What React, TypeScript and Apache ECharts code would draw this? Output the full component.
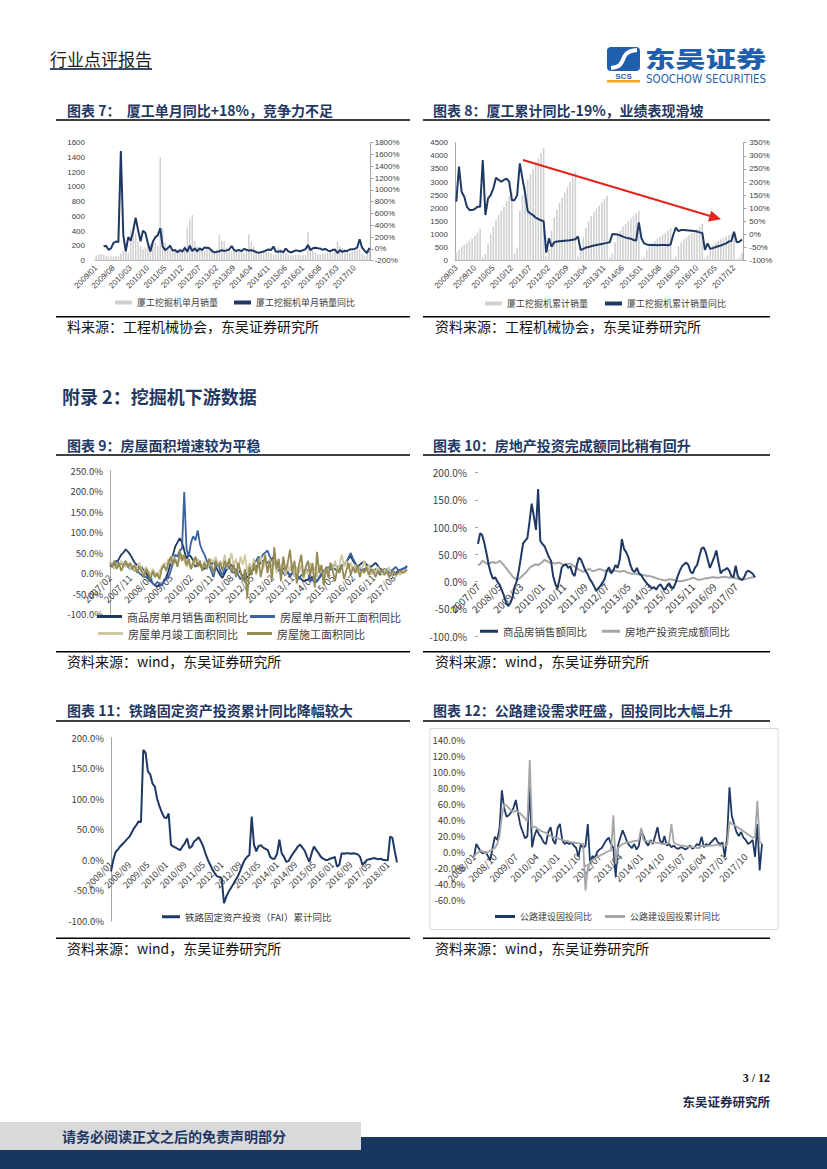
import React, { useEffect, useRef } from 'react';
import * as echarts from 'echarts';

function months(y0: number, m0: number, n: number): string[] {
  const out: string[] = [];
  let y = y0, m = m0;
  for (let i = 0; i < n; i++) {
    out.push(`${y}/${m < 10 ? '0' + m : m}`);
    m++;
    if (m > 12) { m = 1; y++; }
  }
  return out;
}

// ---------- 图表7 ----------
const cat7 = months(2009, 1, 112);
const xgMonthlySales = [
  70, 80, 95, 85, 70, 60, 60, 55, 60, 70, 100, 130,
  130, 110, 420, 450, 380, 260, 200, 160, 180, 220, 240, 270,
  250, 200, 1400, 440, 250, 180, 130, 110, 130, 150, 140, 130,
  200, 450, 560, 620, 270, 200, 160, 140, 140, 170, 160, 150,
  120, 150, 350, 270, 260, 180, 150, 130, 140, 160, 150, 140,
  100, 140, 360, 260, 200, 150, 120, 100, 110, 120, 110, 100,
  80, 90, 180, 160, 120, 100, 80, 70, 75, 80, 80, 75,
  70, 80, 390, 200, 140, 110, 90, 80, 90, 100, 110, 110,
  110, 150, 260, 200, 170, 140, 120, 110, 120, 140, 150, 160,
  90, 70, 150, 160,
];
const xgMonthlyYoy = [
  null, null, null,
  40, 55, -15, 10, 100, 125, 115, 1660, 230, -40,
  200, 140, 300, 530, 320, 130, 310, 270, 90, -45,
  120, 200, 230, 350, 40, -20, 10, 55, -30, -20,
  -55, -20, -45, 20, -50, 55, -35, 10, -40, 10,
  -20, 25, 20, 10, -35, -60, -50, -40, -20, -35,
  -25, -10, 50, -20, -35, -15, -40, 0, -15, -30,
  -20, -35, -55, -65, -55, -45, -25, -10, -20, 40,
  -50, -45, -40, -55, 5, -40, -60, -45, -25, -30,
  -40, -20, -5, 65, -20, 10, 20, 10, 5, -15,
  0, -25, -40, -20, -10, -70, -20, -50, -30, -35,
  -10, -5, 0, 20, 165, 20, -30, -70, 18,
];

// ---------- 图表8 ----------
const cat8 = months(2009, 3, 109);
const xgCumSales = [
  300, 420, 520, 610, 690, 760, 850, 950, 1080, 1220,
  130, 250, 650, 1000, 1300, 1550, 1750, 1900, 2050, 2250, 2450, 2600,
  280, 500, 1900, 2500, 2850, 3100, 3300, 3500, 3700, 3900, 4100, 4300,
  170, 450, 1150, 1650, 1950, 2200, 2400, 2600, 2800, 3000, 3200, 3400,
  150, 350, 900, 1250, 1500, 1700, 1850, 1980, 2100, 2230, 2350, 2480,
  120, 260, 700, 950, 1150, 1300, 1400, 1500, 1600, 1700, 1800, 1900,
  60, 130, 400, 560, 680, 760, 840, 910, 990, 1060, 1150, 1250,
  70, 150, 550, 700, 820, 900, 970, 1040, 1110, 1200, 1300, 1400,
  80, 200, 450, 600, 700, 760, 820, 880, 930, 980, 1030, 1080,
  60, 130, 300,
];
const xgCumYoy = [
  125, 259, 163, 144, 106, 93, 93, 97, 106, 106,
  284, 74, 138, 150, 176, 216, 208, 201, 208, 213,
  201, 131, 131, 150, 271, 213, 157, 89, 80, 74,
  64, 59, 54, 51, -69, -15, -47, -30, -27, -26,
  -25, -24, -23, -22, -20, -18, -8, -59, -55, -50,
  -48, -45, -42, -40, -38, -36, -34, -32, -30, 2,
  1, 0, -4, -8, -12, -14, -16, -21, -23, 46,
  -15, -34, -38, -40, -40, -40, -41, -40, -40, -40,
  -41, -38, -2, 26, 13, 17, 17, 16, 15, 14, 13, 11,
  8, 6, -59, -34, -55, -52, -48, -45, -42, -38, -34, -27, -25, 10, -30, -28, -19,
];

// ---------- 图表9 ----------
const cat9 = months(2007, 2, 133);
const salesAreaYoy = [
  20, 15, 22, 25, 35, 45, 50, 58, 52, 45,
  35, 25, 20, 12, 15, 5, 0, -8, -15, -25,
  -30, -33, -28, -30, -20, -10, 5, 25, 45, 65,
  75, 85, 75, 55, 35, 45, 40, 30, 15, 25,
  20, 12, 10, 18, 25, 20, 30, 15, 5, -5,
  -12, 0, 10, 15, 20, 12, 5, 8, 0, -8,
  -15, -10, -5, 5, 10, 15, 20, 25, 30, 28,
  25, 30, 35, 40, 20, 15, 10, 12, 5, 0,
  -5, 0, 0, -5, -10, -15, -20, -18, -15, -12,
  -10, -15, -20, -12, -5, 5, 10, 12, 15, 18,
  20, 15, 10, 15, 20, 28, 35, 42, 30, 22,
  15, 20, 25, 28, 20, 18, 15, 20, 25, 18,
  10, 8, 5, 8, 10, 3, -5, 0, 5, 8,
  10, 12, 15,
];
const newStartYoy = [
  25, 20, 28, 30, 22, 25, 18, 20, 15, 10,
  12, 5, 8, 0, -5, -10, -8, -15, -20, -25,
  -30, -22, -25, -30, -20, -15, -10, 5, 25, 45,
  40, 55, 60, 198, 60, 40, 75, 90, 80, 104,
  70, 55, 45, 30, 20, 5, -10, 15, 25, 5,
  -5, 10, 25, 15, 5, 0, 10, -5, -15, -8,
  -15, 5, 10, 15, 25, 30, 40, 35, 45, 50,
  55, 40, 30, 25, 15, 5, 10, 0, -5, 5,
  -10, 0, -5, -10, -15, -5, 0, 10, 5, -20,
  -15, -25, -20, -10, 0, 5, 10, 15, 8, 12,
  10, 5, 15, 20, 18, 25, 38, 49, 35, 25,
  15, 10, 5, 10, 8, 12, 5, 0, 10, 5,
  -5, 5, 10, 8, 0, 5, 10, 15, 8, 5,
  10, 12, 18,
];
const completedYoy = [
  30, 20, 10, 25, 15, 30, 20, 15, 25, 10,
  20, 5, 15, 25, 10, 0, 15, 5, -5, 10,
  0, -10, 5, 15, 25, 20, 35, 25, 40, 30,
  20, 35, 45, 30, 15, 25, 10, 30, 20, 35,
  25, 15, 30, 10, 20, 35, 25, 40, 15, 30,
  20, 45, 10, 30, 49, 15, 35, 5, 40, 20,
  45, 0, 25, 10, 35, -5, 20, 40, 10, 30,
  5, 35, 15, 40, 0, 25, 10, 35, -5, 20,
  5, 25, -10, 15, 0, 20, -15, 10, -5, 25,
  0, 15, -10, 20, 5, -5, 15, 0, 25, 10,
  30, 5, 20, 45, 15, 30, 10, 25, 5, 20,
  0, 15, 10, 30, 5, 20, -5, 10, 0, 15,
  5, -5, 10, 0, 15, -5, 5, -10, 0, -5,
  5, 0, 10,
];
const underConstYoy = [
  25, 15, 30, 10, 25, 5, 20, 30, 15, 25,
  10, 20, 0, 15, 5, -10, 10, 0, -15, 5,
  -10, 0, -15, 10, 20, 5, 25, 40, 20, 35,
  15, 55, 30, 45, 20, 35, 10, 25, 40, 15,
  30, 5, 25, 10, 35, 20, 0, 30, 15, 25,
  5, 30, 15, 35, 0, 20, -10, 25, 5, -20,
  10, -60, 15, -5, 25, 0, 35, -10, 20, 45,
  0, 30, -15, 63, 10, 35, -20, 40, 5, 25,
  57, 0, 30, -25, 20, 45, -10, 15, 30, -5,
  25, -35, 52, 0, 20, -30, 15, -10, 25, 5,
  -20, 10, 0, 20, -15, 5, 25, -5, 15, 0,
  20, -10, 10, 0, 15, -5, 10, 5, -10, 5,
  0, 10, -5, 5, -10, 0, 5, -5, 0, 5,
  0, 5, 8,
];

// ---------- 图表10 ----------
const cat10 = months(2007, 7, 130);
const salesValueYoy = [
  69, 89, 85, 70, 51, 30, 15, 5, 8, 0,
  -5, -15, -25, -38, -45, -40, -30, -10, 0, 20,
  45, 70, 75, 80, 110, 143, 120, 95, 170, 75,
  69, 65, 55, 45, 38, 10, -4, -13, 5, 26,
  30, 32, 25, 28, 15, 10, 30, 44, 40, 30,
  20, 14, 5, -1, -8, -17, -12, -8, -2, 5,
  20, 26, 15, 20, 30, 25, 40, 78, 60, 54,
  45, 30, 20, 18, 25, 15, 12, 5, 0, -5,
  -8, -13, -10, -15, -8, -5, -12, -15, -8, -3,
  -10, -12, -3, 10, 20, 28, 32, 35, 30, 18,
  15, 25, 30, 45, 60, 63, 55, 40, 25, 35,
  45, 57, 35, 15, 20, 22, 25, 20, 10, 8,
  29, 10, 5, 3, 8, 18, 20, 17, 14, 8,
];
const reInvestYoy = [
  30, 32, 38, 36, 33, 32, 35, 36, 34, 35,
  38, 35, 30, 25, 20, 15, 10, 6, 4, 5,
  8, 12, 15, 20, 25, 28, 30, 32, 30, 33,
  36, 40, 38, 35, 36, 34, 33, 34, 35, 32,
  30, 31, 32, 33, 30, 28, 25, 22, 20, 18,
  20, 22, 23, 20, 19, 21, 22, 23, 21, 20,
  20, 19, 20, 21, 20, 19, 18, 19, 20, 18,
  16, 15, 14, 15, 14, 13, 12, 12, 11, 10,
  10, 9, 8, 6, 5, 4, 3, 2, 3, 4,
  4, 3, 2, 1, 0, 1, 2, 3, 4, 5,
  7, 6, 4, 3, 4, 5, 6, 6, 7, 8,
  8, 7, 7, 8, 8, 9, 8, 7, 8, 7,
  6, 5, 4, 3, 4, 5, 6, 7, 8, 9,
];

// ---------- 图表11 ----------
const cat11 = months(2008, 1, 125);
const railFaiYoy = [
  -19, 0, 13, 17, 22, 26, 30, 34, 38, 45,
  52, 57, 63, 62, 180, 175, 145, 140, 125, 120,
  100, 88, 78, 70, 68, 76, 25, 22, 20, 18,
  16, 22, 27, 35, 19, 22, 30, 33, 37, 30,
  22, 10, 0, -8, -16, -22, -27, -28, -30, -71,
  -60, -52, -46, -40, -33, -27, -18, -8, 0, 5,
  8, 71, 25, 14, 23, 24, 20, 18, 16, 5,
  2, 2, 10, 33, 11, 5, -3, -2, 5, 11,
  16, 22, 25, 20, 15, 5, -3, 11, 22, 16,
  11, 5, 2, 0, 0, 2, 3, 5, -11, -8,
  11, 10, 11, 11, 10, 11, 10, 9, 5, -8,
  -4, 0, 1, 2, 3, 2, 1, 2, 0, 0,
  -1, 38, 36, 15, -4,
];

// ---------- 图表12 ----------
const cat12 = months(2008, 1, 125);
const roadFaiYoy = [
  -6, 10, 5, 0, -2, 0, -5, -10, 5, 19,
  15, 30, 77, 55, 44, 46, 50, 55, 65, 48,
  33, 25, 17, 20, 81, 6, 20, 28, 22, 18,
  12, 10, 25, 31, 15, 10, 30, 35, 15, 10,
  12, 10, 12, 8, 5, -6, 10, 5, 8, 35,
  -15, -5, -8, 0, 3, 5, 10, 15, 18, 10,
  5, -31, 8, 18, 27, 20, 12, 8, 5, 10,
  3, 8, 27, 20, 12, 8, 15, 10, 20, 31,
  15, 10, 20, 8, 10, 6, 8, 5, 4, 6,
  5, 3, 5, 8, 4, 6, 10, 8, 19, 6,
  10, 8, 12, 15, 18, 12, 10, 12, -6, 20,
  81, 45, 35, 25, 20, 25, 18, 15, 10, 12,
  15, -6, 35, -23, 10,
];
const roadFaiCumYoy = [
  -6, -2, 0, 2, 0, -2, 0, 2, 3, 5,
  10, 20, 45, 60, 58, 55, 52, 50, 52, 50,
  48, 45, 42, 38, 115, 30, 32, 30, 28, 26,
  25, 24, 22, 20, 19, 18, 17, 16, 15, 14,
  14, 13, 12, 12, 11, 11, 10, 10, -48, -20,
  -12, -10, -8, -6, -5, -3, -2, 0, 1, 2,
  46, -15, 5, 8, 10, 11, 12, 12, 13, 14,
  14, 15, 30, 15, 14, 13, 13, 12, 12, 11,
  11, 10, 10, 10, 12, 35, 12, 10, 9, 8,
  8, 7, 7, 6, 6, 6, 5, 5, 8, 8,
  7, 8, 8, 8, 9, 9, 8, 8, 8, 9,
  38, 35, 34, 32, 30, 28, 26, 24, 22, 20,
  18, 18, 64, 12, 11,
];

const NAVY = '#1F3864';
const CJK = '"Noto Sans CJK SC", "Noto Sans", sans-serif';
const NUM = '"Liberation Sans", Arial, sans-serif';
const LBL = '#404040';

const pct1 = (v: number) => v.toFixed(1) + '%';
const pct0 = (v: number) => v + '%';
const plain = (v: number) => String(v);

const G7 = { left: 95, top: 142.7, width: 275.7, height: 118 };
const G8 = { left: 455, top: 142.7, width: 288.3, height: 118 };
const G9 = { left: 110, top: 470.7, width: 297, height: 143.3 };
const G10 = { left: 478, top: 472.7, width: 277, height: 163.3 };
const G11 = { left: 111, top: 737.7, width: 286, height: 183.3 };
const G12 = { left: 474, top: 740, width: 288, height: 160 };

// offset that moves a bottom category axis up to the zero line of its value axis
const zeroOffset = (g: any, min: number, max: number) => -g.height * (0 - min) / (max - min);

function catAxis(gridIndex: number, data: string[], interval: number, fontSize: number, boundaryGap: boolean, lineShow: boolean, fontFamily: string, margin: number, offset = 0) {
  return {
    type: 'category', gridIndex, data, boundaryGap, offset,
    axisLine: { show: lineShow, onZero: false, lineStyle: { color: '#A6A6A6', width: 1 } },
    axisTick: { show: false },
    axisLabel: { interval, rotate: 45, fontSize, color: LBL, fontFamily, margin },
    splitLine: { show: false },
  };
}

function valAxis(gridIndex: number, min: number, max: number, interval: number, fmt: any, fontSize: number, fontFamily: string, opts: any = {}) {
  return {
    type: 'value', gridIndex, min, max, interval,
    position: opts.position || 'left',
    axisLine: { show: !!opts.line, lineStyle: { color: '#A6A6A6', width: 1 } },
    axisTick: { show: !!opts.tick, length: 3, lineStyle: { color: '#A6A6A6' } },
    axisLabel: { formatter: fmt, fontSize, color: LBL, fontFamily, margin: opts.margin ?? 7 },
    splitLine: { show: false },
  };
}

function lineSeries(name: string, x: number, y: number, data: any[], color: string, width: number, z = 3) {
  return {
    type: 'line', name, xAxisIndex: x, yAxisIndex: y, data, color,
    showSymbol: false, symbol: 'none', z,
    lineStyle: { color, width }, itemStyle: { color },
  };
}

function legend(names: string[], left: number, top: number, itemWidth: number, itemHeight: number, itemGap: number, fontSize: number) {
  return {
    data: names.map((n) => ({ name: n, icon: 'rect' })),
    left, top, itemWidth, itemHeight, itemGap, padding: 0, selectedMode: false,
    textStyle: { fontSize, color: LBL, fontFamily: CJK, padding: [0, 0, 0, 0] },
  };
}

function txt(x: number, y: number, text: string, fontSize: number, fill: string, fontWeight: any = 'normal', align = 'left', fontFamily = CJK) {
  return { type: 'text', x, y, z: 20, style: { text, fontSize, fill, fontWeight, fontFamily, align, verticalAlign: 'middle' } };
}
function hline(x1: number, x2: number, y: number, stroke = '#000', lineWidth = 1.5) {
  return { type: 'line', z: 20, shape: { x1, y1: y, x2, y2: y }, style: { stroke, lineWidth } };
}

export default function App() {
  const ref = useRef<HTMLDivElement>(null);
  useEffect(() => {
    document.body.style.margin = '0';
    const chart = echarts.init(ref.current!, null, { renderer: 'svg' });
    const titleSize = 14;
    const srcSize = 14;
    const graphicEls: any[] = [
      // header
      txt(50, 58, '行业点评报告', 17, '#222', 'normal'),
      hline(50, 152, 69, '#3B4A6B', 2),
      // logo
      { type: 'rect', z: 20, shape: { x: 607, y: 47, width: 33, height: 24, r: 4 }, style: { fill: '#1F5FAE' } },
      { type: 'bezierCurve', z: 21, shape: { x1: 611, y1: 68, cpx1: 630, cpy1: 66, cpx2: 616, cpy2: 52, x2: 637, y2: 50 }, style: { stroke: '#fff', lineWidth: 4, fill: null } },
      txt(623.5, 76, 'SCS', 8, '#1F5FAE', 'bold', 'center', NUM),
      { type: 'rect', z: 20, shape: { x: 607, y: 80, width: 33, height: 2.5 }, style: { fill: '#F5A623' } },
      { ...txt(645, 57, '东吴证券', 22, '#1F5FAE', 900), scaleX: 1.38 },
      txt(646, 78.5, 'SOOCHOW SECURITIES', 11.5, '#1F5FAE', 'normal', 'left', '"Liberation Sans Narrow", "DejaVu Sans Condensed", sans-serif'),
      // titles
      txt(67, 110, '图表 7：  厦工单月同比+18%，竞争力不足', titleSize, NAVY, 'bold'),
      txt(433, 110, '图表 8：厦工累计同比-19%，业绩表现滑坡', titleSize, NAVY, 'bold'),
      txt(67, 445, '图表 9：房屋面积增速较为平稳', titleSize, NAVY, 'bold'),
      txt(433, 445, '图表 10：房地产投资完成额同比稍有回升', titleSize, NAVY, 'bold'),
      txt(67, 710, '图表 11：铁路固定资产投资累计同比降幅较大', titleSize, NAVY, 'bold'),
      txt(433, 710, '图表 12：公路建设需求旺盛，固投同比大幅上升', titleSize, NAVY, 'bold'),
      txt(62, 396, '附录 2：挖掘机下游数据', 18, NAVY, 'bold'),
      // rules
      hline(56, 410, 120), hline(423, 770, 120),
      hline(56, 410, 316.7), hline(423, 770, 316.7),
      hline(56, 410, 455), hline(423, 770, 455),
      hline(56, 410, 651.7), hline(423, 770, 651.7),
      hline(56, 410, 721), hline(423, 770, 721),
      hline(56, 410, 938.3), hline(423, 770, 938.3),
      // sources
      txt(67, 326, '料来源：工程机械协会，东吴证券研究所', srcSize, '#111'),
      txt(435, 326, '资料来源：工程机械协会，东吴证券研究所', srcSize, '#111'),
      txt(67, 661, '资料来源：wind，东吴证券研究所', srcSize, '#111'),
      txt(435, 661, '资料来源：wind，东吴证券研究所', srcSize, '#111'),
      txt(67, 948, '资料来源：wind，东吴证券研究所', srcSize, '#111'),
      txt(435, 948, '资料来源：wind，东吴证券研究所', srcSize, '#111'),
      // red arrow on chart 8
      { type: 'line', z: 20, shape: { x1: 523, y1: 160, x2: 711, y2: 216.3 }, style: { stroke: '#E5231B', lineWidth: 2 } },
      { type: 'polygon', z: 20, shape: { points: [[721, 219.3], [708, 221.5], [711.2, 210.8]] }, style: { fill: '#E5231B' } },
      // chart 12 frame
      { type: 'rect', z: 1, shape: { x: 430, y: 728.5, width: 348, height: 201 }, style: { fill: 'transparent', stroke: '#D9D9D9', lineWidth: 1 } },
      // footer
      txt(770, 1078, '3 / 12', 12, '#111', 'bold', 'right', '"Liberation Serif", serif'),
      txt(770, 1101, '东吴证券研究所', 12.5, '#1a2a4a', 'bold', 'right'),
      { type: 'rect', z: 18, shape: { x: 0, y: 1137, width: 827, height: 32 }, style: { fill: '#17375E' } },
      { type: 'rect', z: 19, shape: { x: 0, y: 1122, width: 361, height: 28 }, style: { fill: '#D9D9D9' } },
      txt(62, 1136, '请务必阅读正文之后的免责声明部分', 14, NAVY, 'bold'),
    ];

    const option: any = {
      animation: false,
      backgroundColor: '#fff',
      grid: [G7, G8, G9, G10, G11, G12],
      xAxis: [
        catAxis(0, cat7, 6, 8, true, true, NUM, 6),
        catAxis(1, cat8, 6, 8, true, true, NUM, 6),
        catAxis(2, cat9, 8, 9.5, false, false, CJK, 3, zeroOffset(G9, -100, 250)),
        catAxis(3, cat10, 9, 10, false, false, CJK, 3, zeroOffset(G10, -100, 200)),
        catAxis(4, cat11, 7, 9, false, false, CJK, 3, zeroOffset(G11, -100, 200)),
        catAxis(5, cat12, 8, 9.5, false, false, CJK, 3, zeroOffset(G12, -60, 140)),
      ],
      yAxis: [
        valAxis(0, 0, 1600, 200, plain, 8, NUM, { margin: 10 }),
        valAxis(0, -200, 1800, 200, pct0, 8, NUM, { position: 'right', line: true, tick: true, margin: 4 }),
        valAxis(1, 0, 4500, 500, plain, 8, NUM, { line: true, margin: 7 }),
        valAxis(1, -100, 350, 50, pct0, 8, NUM, { position: 'right', line: true, tick: true, margin: 6 }),
        valAxis(2, -100, 250, 50, pct1, 9.5, CJK, { line: true, margin: 7 }),
        valAxis(3, -100, 200, 50, pct1, 10, CJK, { tick: true, margin: 11 }),
        valAxis(4, -100, 200, 50, pct1, 9.5, CJK, { line: true, margin: 7 }),
        valAxis(5, -60, 140, 20, pct1, 9.5, CJK, { margin: 9 }),
      ],
      legend: [
        legend(['厦工挖掘机单月销量', '厦工挖掘机单月销量同比'], 115, 298, 17, 4, 16, 9),
        legend(['厦工挖掘机累计销量', '厦工挖掘机累计销量同比'], 485, 299, 17, 4, 17, 9),
        legend(['商品房单月销售面积同比', '房屋单月新开工面积同比'], 97, 611, 25, 3, 2, 11),
        legend(['房屋单月竣工面积同比', '房屋施工面积同比'], 98, 628, 25, 3, 9, 11),
        legend(['商品房销售额同比', '房地产投资完成额同比'], 480, 626, 18, 3, 15, 10.5),
        legend(['铁路固定资产投资（FAI）累计同比'], 162, 912, 18, 3, 10, 9.5),
        legend(['公路建设固投同比', '公路建设固投累计同比'], 495, 912, 20, 3, 13, 9),
      ],
      series: [
        { type: 'bar', name: '厦工挖掘机单月销量', xAxisIndex: 0, yAxisIndex: 0, data: xgMonthlySales, barWidth: 1.5, color: '#D0D0D0', itemStyle: { color: '#D0D0D0' } },
        lineSeries('厦工挖掘机单月销量同比', 0, 1, xgMonthlyYoy, NAVY, 2),
        { type: 'bar', name: '厦工挖掘机累计销量', xAxisIndex: 1, yAxisIndex: 2, data: xgCumSales, barWidth: 1.6, color: '#D0D0D0', itemStyle: { color: '#D0D0D0' } },
        lineSeries('厦工挖掘机累计销量同比', 1, 3, xgCumYoy, NAVY, 2),
        lineSeries('商品房单月销售面积同比', 2, 4, salesAreaYoy, NAVY, 1.8, 3),
        lineSeries('房屋单月新开工面积同比', 2, 4, newStartYoy, '#3A62A0', 1.8, 4),
        lineSeries('房屋单月竣工面积同比', 2, 4, completedYoy, '#D0C8A0', 1.8, 5),
        lineSeries('房屋施工面积同比', 2, 4, underConstYoy, '#948A54', 1.8, 6),
        lineSeries('商品房销售额同比', 3, 5, salesValueYoy, NAVY, 2, 4),
        lineSeries('房地产投资完成额同比', 3, 5, reInvestYoy, '#A6A6A6', 2, 3),
        lineSeries('铁路固定资产投资（FAI）累计同比', 4, 6, railFaiYoy, NAVY, 2),
        lineSeries('公路建设固投同比', 5, 7, roadFaiYoy, NAVY, 1.8, 3),
        lineSeries('公路建设固投累计同比', 5, 7, roadFaiCumYoy, '#A6A6A6', 1.8, 4),
      ],
      graphic: { elements: graphicEls },
    };
    chart.setOption(option);
    return () => chart.dispose();
  }, []);
  return <div ref={ref} style={{ position: 'absolute', left: 0, top: 0, width: 827, height: 1169 }} />;
}
